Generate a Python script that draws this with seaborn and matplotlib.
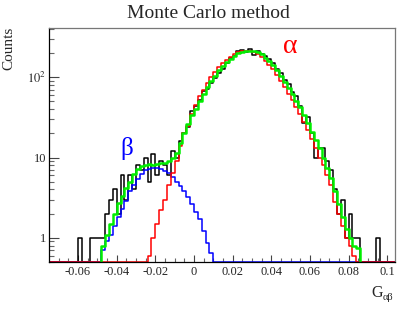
import numpy as np
import pandas as pd
import matplotlib
matplotlib.use("Agg")
import matplotlib.pyplot as plt
from matplotlib.ticker import FixedLocator, NullFormatter
import seaborn as sns

# ---------------- data (bin width 0.002) ----------------
bin_width = 0.002
axis_lo, axis_hi = -0.076, 0.106

data_start = -0.060
data_counts = [1, 0, 0, 1, 1, 1, 1, 2, 3, 4, 2, 6, 3, 6, 4, 8, 7, 10, 5, 11,
               6, 9, 8, 6, 12, 10, 16, 20, 24, 38, 44, 52, 68, 72, 85, 98, 112, 125,
               150, 172, 185, 210, 220, 205, 225, 190, 210, 195, 185, 168, 150, 128,
               112, 92, 82, 66, 58, 44, 27, 32, 20, 10, 13, 13, 9, 7, 4, 2, 3, 1, 2,
               1, 1, 0, 0, 0, 0, 1]

alpha_start = -0.024
alpha_counts = [0.6, 1.0, 1.5, 2.2, 3.0, 4.5, 6.5, 9, 14, 20, 25, 35,
                45, 58, 70, 85, 100, 115, 135, 150, 165, 180, 195, 205, 212, 215,
                212, 205, 195, 180, 160, 140, 125, 108, 90, 75, 62, 52, 43, 35, 28,
                22, 17, 13, 10, 8, 6, 4.5, 2.8, 2.0, 1.4, 1.0, 0.8, 0.6]

beta_start = -0.048
beta_counts = [0.7, 0.9, 1.1, 1.4, 1.8, 2.3, 2.9, 3.8, 4.6, 5.4, 6.2, 6.9, 7.2,
               7.5, 7.5, 7.2, 6.8, 6.4, 5.8, 5.0, 4.4, 3.8, 3.2, 2.6, 2.1, 1.7, 1.2,
               0.85, 0.65]

fit_start = -0.048
fit_counts = [0.8, 1.1, 1.5, 2.0, 2.7, 3.3, 4.2, 5.0, 6.2, 7.2, 7.8, 8.0, 8.3,
              8.0, 8.3, 8.5, 8.6, 9.0, 9.8, 11.5, 15, 20, 26, 34,
              40, 50, 62, 75, 90, 105, 122, 138, 155, 170, 185, 198, 207, 213, 215,
              212, 205, 192, 175, 158, 140, 122, 104, 88, 74, 62, 51, 42, 34, 27,
              21, 16.5, 13, 10, 7.5, 5.5, 3.8, 2.6, 1.8, 1.3, 1.0, 0.8, 0.75]

title = "Monte Carlo method"
xticks = [-0.06, -0.04, -0.02, 0, 0.02, 0.04, 0.06, 0.08, 0.1]
xticklabels = ["-0.06", "-0.04", "-0.02", "0", "0.02", "0.04", "0.06", "0.08", "0.1"]
yticks = [1, 10, 100]
yticklabels = ["1", "10", r"$10^{2}$"]

# ---------------- style ----------------
sns.set_theme(style="white")
plt.rcParams["font.family"] = ["Liberation Serif", "DejaVu Serif"]
plt.rcParams["mathtext.fontset"] = "stix"
plt.rcParams["axes.unicode_minus"] = False

YMIN, YMAX = 0.5, 410

fig = plt.figure(figsize=(4.16, 3.11), dpi=100)
ax = fig.add_axes([49 / 416, 1 - 262 / 311, 346 / 416, 234 / 311])
ax.set_yscale("log")


def full_hist(start, counts, floor):
    nb = int(round((axis_hi - axis_lo) / bin_width))
    vals = np.zeros(nb)
    i0 = int(round((start - axis_lo) / bin_width))
    vals[i0:i0 + len(counts)] = counts
    edges = axis_lo + bin_width * np.arange(nb + 1)
    y = np.where(vals > 0, vals, floor)
    y = np.append(y, y[-1])
    return pd.DataFrame({"x": edges, "y": y})


series = [
    (data_start, data_counts, "black", 1.1, YMIN),
    (beta_start, beta_counts, "#0000ff", 1.1, YMIN),
    (alpha_start, alpha_counts, "#ff0000", 1.1, YMIN),
    (fit_start, fit_counts, "#00ee00", 1.8, 0.2),
]
for start, counts, col, lw, floor in series:
    df = full_hist(start, counts, floor)
    sns.lineplot(data=df, x="x", y="y", ax=ax, color=col, linewidth=lw,
                 drawstyle="steps-post", estimator=None, sort=False)

ax.set_xlim(-0.075, 0.104)
ax.set_ylim(YMIN, YMAX)

ax.set_xticks(xticks)
ax.set_xticklabels(xticklabels)
ax.xaxis.set_minor_locator(FixedLocator(np.arange(-0.07, 0.1051, 0.005)))
ax.set_yticks(yticks)
ax.set_yticklabels(yticklabels)
minor_y = [m * 10 ** e for e in range(-1, 3) for m in range(2, 10)]
ax.yaxis.set_minor_locator(FixedLocator([v for v in minor_y if YMIN <= v <= YMAX]))
ax.yaxis.set_minor_formatter(NullFormatter())

ax.tick_params(axis="x", which="major", direction="in", length=5, width=0.8,
               labelsize=9, pad=3, bottom=True, top=False, color="#444444")
ax.tick_params(axis="x", which="minor", direction="in", length=2.6, width=0.8,
               bottom=True, top=False, color="#666666")
ax.tick_params(axis="y", which="major", direction="in", length=7.5, width=0.8,
               labelsize=9, pad=2, left=True, right=False, color="#444444")
ax.tick_params(axis="y", which="minor", direction="in", length=3.8, width=0.8,
               left=True, right=False, color="#666666")

for side in ["left", "bottom"]:
    ax.spines[side].set_color("black")
    ax.spines[side].set_linewidth(0.9)
for side in ["top", "right"]:
    ax.spines[side].set_color("#777777")
    ax.spines[side].set_linewidth(0.9)

ax.set_xlabel("")
ax.set_ylabel("")

fig.text(208 / 416, 1 - 13 / 311, title, ha="center", va="center", fontsize=14)
fig.text(9 / 416, 1 - 27 / 311, "Counts", rotation=90, ha="center", va="top", fontsize=11)
fig.text(383 / 416, 1 - 293 / 311, "G", ha="right", va="center", fontsize=11.5)
fig.text(383 / 416, 1 - 297 / 311, "αβ", ha="left", va="center", fontsize=7.5)

ax.text(0.05, 240, "α", color="#ff0000", fontsize=20, ha="center", va="center")
ax.text(-0.035, 13, "β", color="#0000ff", fontsize=18, ha="center", va="center")

fig.savefig("out.png", dpi=100, facecolor="white")
